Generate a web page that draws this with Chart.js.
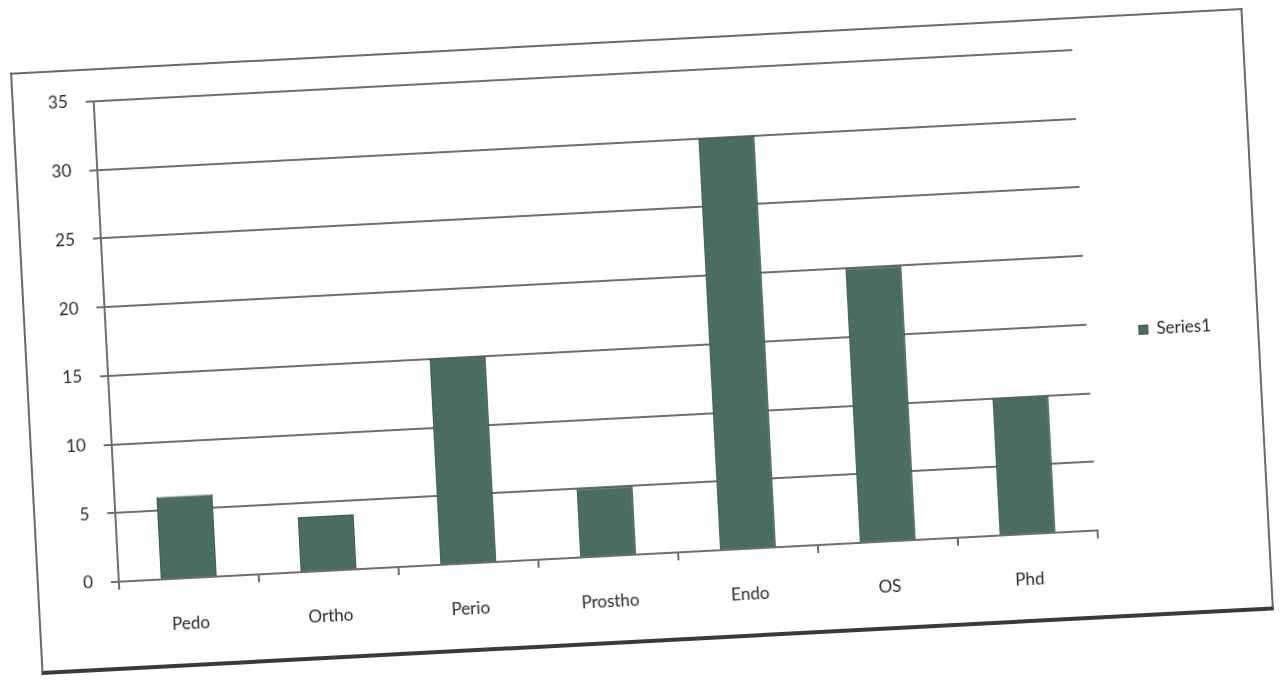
<!DOCTYPE html>
<html>
<head>
<meta charset="utf-8">
<script src="https://cdn.jsdelivr.net/npm/chart.js@4"></script>
<style>
  html, body { margin: 0; padding: 0; background: #fff; }
  body { width: 1285px; height: 681px; overflow: hidden; position: relative; }
  #box {
    position: absolute;
    left: 25px; top: 40px;
    width: 1234px; height: 603px;
    box-sizing: border-box;
    background: #fff;
    border: 2px solid #6a6a6a;
    border-bottom: 4px solid #3a3a3a;
    transform: rotate(-3deg);
    transform-origin: 50% 50%;
  }
  canvas { display: block; }
</style>
</head>
<body>
<div id="box"><canvas id="chart" width="1230" height="597"></canvas></div>
<script>
const categories = ['Pedo', 'Ortho', 'Perio', 'Prostho', 'Endo', 'OS', 'Phd'];
const series1 = [6, 4, 15, 5, 30, 20, 10];
const yMin = 0;
const yMax = 35;
const yStep = 5;

const textColor = '#2a2a2a';
const lineColor = '#6e6e6e';

const ctx = document.getElementById('chart').getContext('2d');
const chart = new Chart(ctx, {
  type: 'bar',
  data: {
    labels: categories,
    datasets: [{
      label: 'Series1',
      data: series1,
      backgroundColor: '#4b6d61',
      borderColor: '#3a574d',
      borderWidth: 1,
      barPercentage: 0.4,
      categoryPercentage: 1
    }]
  },
  options: {
    responsive: false,
    animation: false,
    devicePixelRatio: 1,
    layout: { padding: { left: 0, top: 31, right: 36, bottom: 0 } },
    plugins: {
      tooltip: { enabled: false },
      legend: {
        position: 'right',
        labels: {
          boxWidth: 9,
          boxHeight: 9,
          padding: 52,
          color: textColor,
          font: { family: 'Lato', size: 17 }
        }
      }
    },
    scales: {
      x: {
        grid: {
          offset: true,
          drawOnChartArea: false,
          drawTicks: true,
          tickLength: 8,
          color: lineColor,
          lineWidth: 2
        },
        border: { display: true, color: lineColor, width: 2 },
        ticks: {
          color: textColor,
          padding: 27,
          font: { family: 'Lato', size: 17 }
        },
        afterFit: s => { s.height = 85; }
      },
      y: {
        min: yMin,
        max: yMax,
        ticks: {
          stepSize: yStep,
          color: textColor,
          padding: 18,
          font: { family: 'Lato', size: 17 }
        },
        grid: {
          color: lineColor,
          lineWidth: 2,
          tickLength: 8
        },
        border: { display: true, color: lineColor, width: 2 },
        afterFit: s => { s.width = 80; }
      }
    }
  }
});
</script>
</body>
</html>
